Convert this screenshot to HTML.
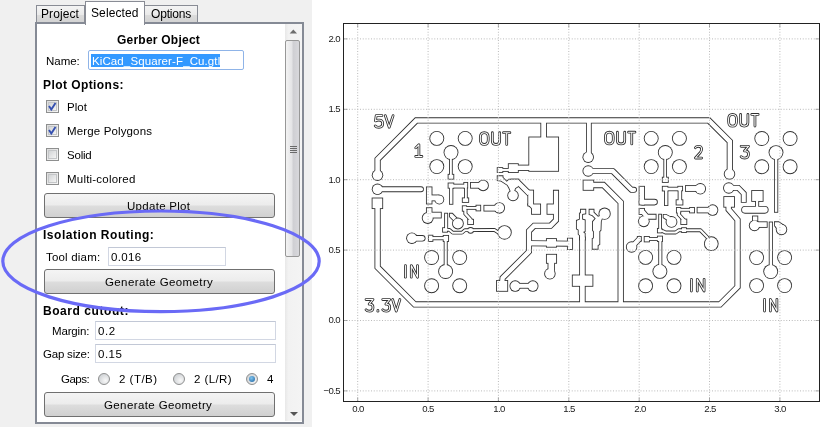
<!DOCTYPE html>
<html>
<head>
<meta charset="utf-8">
<title>FlatCAM</title>
<style>
html,body{margin:0;padding:0;}
body{width:831px;height:427px;overflow:hidden;background:#f0f0f0;font-family:"Liberation Sans",sans-serif;font-size:11.5px;color:#000;position:relative;}
.abs{position:absolute;}
.lbl,.tk{will-change:transform;}
#canvas{left:312px;top:0;width:519px;height:427px;background:#fff;}
/* tabs */
.tab{position:absolute;box-sizing:border-box;border:1px solid #898c95;border-bottom:none;background:linear-gradient(#f4f4f4,#eaeaea 50%,#dcdcdc 51%,#d2d2d2);text-align:center;font-size:12px;line-height:15px;}
.tab.sel{background:#fff;z-index:3;}
#pane{left:34.5px;top:22px;width:269.5px;height:402px;box-sizing:border-box;border:2.4px solid #858a95;background:#fff;}
.lbl{position:absolute;white-space:pre;line-height:14px;font-size:11.5px;z-index:4;}
.b{font-weight:bold;}
.inp{position:absolute;box-sizing:border-box;border:1px solid #d2d7e3;border-top-color:#c2c8d6;background:#fff;height:19px;font-size:11.5px;line-height:17px;padding-left:3px;white-space:nowrap;}
.btn{position:absolute;box-sizing:border-box;border:1px solid #707070;border-radius:3px;background:linear-gradient(#f4f4f4,#ececec 48%,#dddddd 52%,#d0d0d0);text-align:center;font-size:11.5px;left:44px;width:231px;height:25px;line-height:22px;}
.cb{position:absolute;box-sizing:border-box;width:13px;height:13px;left:46px;border:1px solid #8e8f8f;background:linear-gradient(135deg,#dcdcdc,#f6f6f6);}
.cb i{position:absolute;left:1px;top:1px;width:9px;height:9px;box-sizing:border-box;border:1px solid #c4c6c8;background:linear-gradient(135deg,#d2d4d6,#f4f4f4);}
.rd{position:absolute;box-sizing:border-box;width:12px;height:12px;border-radius:50%;border:1px solid #8e8f8f;background:radial-gradient(circle at 65% 65%,#f8f8f8,#c3c7cb);}
.tk{position:absolute;font-size:9.6px;line-height:10px;color:#1a1a1a;white-space:nowrap;letter-spacing:-0.6px;z-index:3;}
.tky{text-align:right;width:40px;left:300.4px;}
.tkx{text-align:center;width:40px;top:403.87px;}
</style>
</head>
<body>
<div id="canvas" class="abs"></div>

<!-- tabs -->
<div class="tab" style="left:36px;top:5px;width:49px;height:18px;line-height:16px;"></div>
<div class="tab sel" style="left:84.5px;top:1px;width:60.5px;height:23.5px;line-height:19px;"></div>
<div class="tab" style="left:144px;top:5px;width:54px;height:18px;line-height:16px;"></div>

<div id="pane" class="abs"></div>

<!-- scrollbar -->
<div class="abs" style="left:285px;top:24px;width:17px;height:397px;background:linear-gradient(90deg,#e8e8e8,#f2f2f2 20%,#f4f4f4);"></div>
<div class="abs" style="left:285px;top:40px;width:15px;height:217px;box-sizing:border-box;border:1px solid #979797;border-radius:2px;background:linear-gradient(90deg,#f3f3f3,#e4e4e6 45%,#cfcfd3 55%,#d8d8dc);"></div>
<svg class="abs" style="left:286px;top:24px;" width="15" height="397" viewBox="0 0 15 397">
<path d="M3.7 9.6 L7.3 5.6 L11 9.6 Z" fill="#6d6d6d"/>
<path d="M4 388 L12 388 L8 392 Z" fill="#555"/>
<g stroke="#6a6a6a" stroke-width="1"><path d="M4 122.5h7M4 124.5h7M4 126.5h7M4 128.5h7"/></g>
</svg>

<!-- content -->
<div class="inp" style="left:88px;top:50px;width:156px;height:20px;border-color:#8fb4e8;border-radius:2px;"></div>
<div class="abs" style="left:91px;top:53.5px;width:129px;height:13.2px;background:#3399ff;z-index:3;"></div>

<div class="cb" style="top:100px;"><i></i></div>
<div class="cb" style="top:124px;"><i></i></div>
<div class="cb" style="top:148px;"><i></i></div>
<div class="cb" style="top:172px;"><i></i></div>
<svg class="abs" style="left:46px;top:100px;" width="13" height="40" viewBox="0 0 13 40">
<path d="M3 6 L5.3 9.5 L9.5 3" fill="none" stroke="#3550b0" stroke-width="1.9"/>
<path d="M3 30 L5.3 33.5 L9.5 27" fill="none" stroke="#3550b0" stroke-width="1.9"/>
</svg>

<div class="btn" style="top:192.5px;"></div>
<div class="inp" style="left:108px;top:247px;width:118px;"></div>
<div class="btn" style="top:269px;"></div>
<div class="inp" style="left:95px;top:321px;width:181px;"></div>
<div class="inp" style="left:95px;top:344px;width:181px;"></div>
<div class="rd" style="left:98px;top:373px;"></div>
<div class="rd" style="left:173px;top:373px;"></div>
<div class="rd" style="left:246px;top:373px;"><b style="position:absolute;left:2px;top:2px;width:6px;height:6px;border-radius:50%;background:radial-gradient(circle at 40% 35%,#7fc4ee,#1a5f9e);"></b></div>
<div class="btn" style="top:392.4px;"></div>

<!--LBL-->
<div class="lbl b" style="left:116.9px;top:33.34px;font-size:12px;letter-spacing:0.23px;">Gerber Object</div>
<div class="lbl" style="left:45.7px;top:53.72px;font-size:11.5px;letter-spacing:-0.03px;">Name:</div>
<div class="lbl b" style="left:42.7px;top:78.24px;font-size:12px;letter-spacing:0.43px;">Plot Options:</div>
<div class="lbl" style="left:66.6px;top:100.42px;font-size:11.5px;letter-spacing:0.07px;">Plot</div>
<div class="lbl" style="left:66.6px;top:124.42px;font-size:11.5px;letter-spacing:0.14px;">Merge Polygons</div>
<div class="lbl" style="left:66.6px;top:148.42px;font-size:11.5px;letter-spacing:-0.22px;">Solid</div>
<div class="lbl" style="left:66.6px;top:172.42px;font-size:11.5px;letter-spacing:0.21px;">Multi-colored</div>
<div class="lbl" style="left:127.1px;top:198.72px;font-size:11.5px;letter-spacing:0.29px;">Update Plot</div>
<div class="lbl b" style="left:42.7px;top:227.74px;font-size:12px;letter-spacing:0.52px;">Isolation Routing:</div>
<div class="lbl" style="left:46.4px;top:249.82px;font-size:11.5px;letter-spacing:0.19px;">Tool diam:</div>
<div class="lbl" style="left:111.1px;top:249.82px;font-size:11.5px;letter-spacing:0.32px;">0.016</div>
<div class="lbl" style="left:104.6px;top:275.22px;font-size:11.5px;letter-spacing:0.39px;">Generate Geometry</div>
<div class="lbl b" style="left:42.5px;top:304.34px;font-size:12px;letter-spacing:0.56px;">Board cutout:</div>
<div class="lbl" style="left:52.0px;top:324.12px;font-size:11.5px;letter-spacing:-0.17px;">Margin:</div>
<div class="lbl" style="left:97.5px;top:324.12px;font-size:11.5px;letter-spacing:0.63px;">0.2</div>
<div class="lbl" style="left:42.5px;top:347.02px;font-size:11.5px;letter-spacing:-0.21px;">Gap size:</div>
<div class="lbl" style="left:97.5px;top:347.02px;font-size:11.5px;letter-spacing:0.50px;">0.15</div>
<div class="lbl" style="left:61.0px;top:372.32px;font-size:11.5px;letter-spacing:-0.50px;">Gaps:</div>
<div class="lbl" style="left:119.0px;top:372.32px;font-size:11.5px;letter-spacing:0.49px;">2 (T/B)</div>
<div class="lbl" style="left:194.2px;top:372.32px;font-size:11.5px;letter-spacing:0.42px;">2 (L/R)</div>
<div class="lbl" style="left:267.0px;top:372.32px;font-size:11.5px;letter-spacing:-0.41px;">4</div>
<div class="lbl" style="left:104.3px;top:398.42px;font-size:11.5px;letter-spacing:0.39px;">Generate Geometry</div>
<div class="lbl" style="left:91.6px;top:53.72px;font-size:11.5px;letter-spacing:0.11px;color:#fff;z-index:5;">KiCad_Squarer-F_Cu.gtl</div>
<div class="lbl" style="left:40.7px;top:6.54px;font-size:12px;letter-spacing:0.08px;z-index:4;">Project</div>
<div class="lbl" style="left:90.7px;top:5.94px;font-size:12px;letter-spacing:0.12px;z-index:4;">Selected</div>
<div class="lbl" style="left:150.8px;top:6.54px;font-size:12px;letter-spacing:-0.19px;z-index:4;">Options</div>
<!--/LBL-->
<!-- annotation ellipse -->
<svg class="abs" style="left:0;top:0;z-index:5;" width="831" height="427" viewBox="0 0 831 427">
<ellipse cx="161" cy="261.3" rx="158.2" ry="50.3" fill="none" stroke="#6a6af6" stroke-width="3.2"/>
</svg>

<!-- plot -->
<svg id="plot" class="abs" style="left:0;top:0;z-index:2;" width="831" height="427" viewBox="0 0 831 427">
<!--PCB-->
<g id="pcbA">
<path d="M377.60 175.63 L377.60 159.20 L416.30 120.45 L708.80 120.45 L729.85 141.50 L729.85 174.43" fill="none" stroke="#303030" stroke-width="6.26" stroke-linecap="butt" stroke-linejoin="miter"/>
<circle cx="377.50" cy="175.20" r="5.73" fill="#303030"/>
<circle cx="729.50" cy="174.00" r="5.73" fill="#303030"/>
<path d="M543.65 120.07 L543.65 141.43" fill="none" stroke="#303030" stroke-width="6.56" stroke-linecap="butt" stroke-linejoin="miter"/>
<rect x="528.37" y="136.57" width="30.66" height="35.16" fill="#303030"/>
<rect x="496.77" y="167.17" width="6.46" height="5.66" fill="#303030"/>
<path d="M500.57 169.90 L510.43 169.90" fill="none" stroke="#303030" stroke-width="3.86" stroke-linecap="butt" stroke-linejoin="miter"/>
<rect x="507.87" y="163.27" width="10.86" height="9.66" fill="#303030"/>
<path d="M515.57 167.80 L531.43 167.80" fill="none" stroke="#303030" stroke-width="6.26" stroke-linecap="butt" stroke-linejoin="miter"/>
<path d="M588.85 120.07 L588.85 157.63" fill="none" stroke="#303030" stroke-width="5.76" stroke-linecap="butt" stroke-linejoin="miter"/>
<circle cx="588.20" cy="157.20" r="5.73" fill="#303030"/>
<path d="M377.60 202.87 L377.60 267.30 L414.70 304.40 L720.00 304.40 L737.55 286.85 L737.55 219.80 L728.65 209.50 L728.65 202.57" fill="none" stroke="#303030" stroke-width="6.26" stroke-linecap="butt" stroke-linejoin="miter"/>
<rect x="371.67" y="197.57" width="11.46" height="11.46" fill="#303030"/>
<rect x="723.37" y="196.17" width="11.56" height="11.46" fill="#303030"/>
<path d="M582.40 304.83 L582.40 236.57" fill="none" stroke="#303030" stroke-width="6.46" stroke-linecap="butt" stroke-linejoin="miter"/>
<rect x="571.87" y="274.57" width="21.46" height="12.16" fill="#303030"/>
<path d="M580.07 208.87 L586.23 208.87 L586.23 214.28 L583.03 214.68 L583.03 218.86 L585.63 219.46 L585.63 231.77 L584.60 232.28 L585.63 233.09 L585.63 240.43 L579.17 240.43 L579.17 235.80 L577.77 234.60 L577.77 230.27 L575.97 229.37 L575.97 220.11 L578.97 218.91 L578.97 212.64 L580.07 212.44 Z" fill="#303030"/>
<path d="M587.97 185.00 L603.40 185.00 L620.70 202.30 L620.70 304.83" fill="none" stroke="#303030" stroke-width="6.26" stroke-linecap="butt" stroke-linejoin="miter"/>
<rect x="582.67" y="179.67" width="11.46" height="11.06" fill="#303030"/>
<circle cx="377.50" cy="189.30" r="5.73" fill="#303030"/>
<path d="M377.50 189.30 L421.00 189.30" fill="none" stroke="#303030" stroke-width="5.86" stroke-linecap="round" stroke-linejoin="round"/>
<circle cx="436.80" cy="138.40" r="7.43" fill="#303030"/>
<circle cx="465.20" cy="138.40" r="7.43" fill="#303030"/>
<circle cx="451.00" cy="152.50" r="7.43" fill="#303030"/>
<circle cx="436.80" cy="166.60" r="7.43" fill="#303030"/>
<circle cx="465.20" cy="166.60" r="7.43" fill="#303030"/>
<path d="M450.90 152.07 L450.90 176.43" fill="none" stroke="#303030" stroke-width="3.66" stroke-linecap="butt" stroke-linejoin="miter"/>
<rect x="447.67" y="173.87" width="6.56" height="5.76" fill="#303030"/>
<circle cx="431.60" cy="257.50" r="7.43" fill="#303030"/>
<circle cx="459.70" cy="257.50" r="7.43" fill="#303030"/>
<circle cx="445.60" cy="271.50" r="7.43" fill="#303030"/>
<circle cx="431.60" cy="285.70" r="7.43" fill="#303030"/>
<circle cx="459.70" cy="285.70" r="7.43" fill="#303030"/>
<path d="M445.70 271.93 L445.70 238.07" fill="none" stroke="#303030" stroke-width="3.96" stroke-linecap="butt" stroke-linejoin="miter"/>
<rect x="442.77" y="234.97" width="6.26" height="6.96" fill="#303030"/>
<path d="M429.57 238.20 L446.43 238.20" fill="none" stroke="#303030" stroke-width="4.06" stroke-linecap="butt" stroke-linejoin="miter"/>
<rect x="427.97" y="234.77" width="5.36" height="7.06" fill="#303030"/>
<circle cx="411.90" cy="238.20" r="5.73" fill="#303030"/>
<path d="M411.90 238.30 L422.30 238.30" fill="none" stroke="#303030" stroke-width="6.46" stroke-linecap="round" stroke-linejoin="round"/>
<rect x="425.97" y="186.47" width="6.46" height="17.96" fill="#303030"/>
<path d="M429.57 197.90 L439.43 197.90" fill="none" stroke="#303030" stroke-width="6.76" stroke-linecap="butt" stroke-linejoin="miter"/>
<circle cx="439.30" cy="199.60" r="4.93" fill="#303030"/>
<rect x="447.67" y="182.57" width="6.56" height="6.06" fill="#303030"/>
<path d="M450.57 186.10 L466.43 186.10" fill="none" stroke="#303030" stroke-width="4.76" stroke-linecap="butt" stroke-linejoin="miter"/>
<path d="M451.15 185.57 L451.15 204.73" fill="none" stroke="#303030" stroke-width="4.36" stroke-linecap="butt" stroke-linejoin="miter"/>
<rect x="463.37" y="181.97" width="4.76" height="6.46" fill="#303030"/>
<path d="M465.90 183.57 L465.90 200.43" fill="none" stroke="#303030" stroke-width="3.66" stroke-linecap="butt" stroke-linejoin="miter"/>
<rect x="461.87" y="197.47" width="7.26" height="5.36" fill="#303030"/>
<circle cx="483.10" cy="185.40" r="5.73" fill="#303030"/>
<path d="M483.43 185.30 L470.07 185.30" fill="none" stroke="#303030" stroke-width="6.66" stroke-linecap="butt" stroke-linejoin="miter"/>
<circle cx="499.30" cy="207.90" r="5.73" fill="#303030"/>
<path d="M499.43 208.20 L483.47 208.20" fill="none" stroke="#303030" stroke-width="6.66" stroke-linecap="butt" stroke-linejoin="miter"/>
<rect x="461.87" y="205.37" width="5.16" height="6.26" fill="#303030"/>
<path d="M463.57 207.90 L478.43 207.90" fill="none" stroke="#303030" stroke-width="3.76" stroke-linecap="butt" stroke-linejoin="miter"/>
<rect x="475.57" y="204.77" width="5.56" height="6.56" fill="#303030"/>
<path d="M465.40 208.57 L465.40 213.80 L470.60 219.50 L470.60 221.43" fill="none" stroke="#303030" stroke-width="4.06" stroke-linecap="butt" stroke-linejoin="miter"/>
<rect x="467.27" y="218.87" width="6.66" height="6.06" fill="#303030"/>
<circle cx="427.70" cy="218.00" r="5.93" fill="#303030"/>
<rect x="425.97" y="207.27" width="6.46" height="7.16" fill="#303030"/>
<path d="M429.57 215.10 L441.73 215.10" fill="none" stroke="#303030" stroke-width="6.66" stroke-linecap="butt" stroke-linejoin="miter"/>
<path d="M446.15 212.77 L446.15 230.43" fill="none" stroke="#303030" stroke-width="3.96" stroke-linecap="butt" stroke-linejoin="miter"/>
<rect x="442.17" y="227.27" width="5.76" height="5.36" fill="#303030"/>
<path d="M445.00 229.80 L449.50 229.90 L452.70 232.70 L462.00 232.70 L464.90 230.20 L494.30 229.90 L499.00 233.00" fill="none" stroke="#303030" stroke-width="3.66" stroke-linecap="round" stroke-linejoin="round"/>
<circle cx="470.60" cy="230.40" r="3.33" fill="#303030"/>
<circle cx="504.50" cy="232.40" r="7.23" fill="#303030"/>
<circle cx="457.90" cy="223.50" r="5.88" fill="#303030"/>
<path d="M449.07 212.77 L452.58 212.77 L457.41 217.82 L453.60 221.39 L449.07 217.08 Z" fill="#303030"/>
<path d="M496.77 175.37 L503.43 175.37 L503.43 177.22 L506.71 180.51 L508.63 178.77 L519.43 178.77 L519.43 186.43 L515.86 188.78 L513.10 197.05 L509.51 190.79 L508.42 188.19 L506.88 185.60 L500.74 181.51 L496.77 180.98 Z" fill="#303030"/>
<circle cx="513.00" cy="195.50" r="5.73" fill="#303030"/>
<path d="M510.57 181.80 L517.40 181.80 L529.80 194.20" fill="none" stroke="#303030" stroke-width="6.06" stroke-linecap="butt" stroke-linejoin="miter"/>
<rect x="527.37" y="189.67" width="6.66" height="16.76" fill="#303030"/>
<path d="M527.37 203.57 L533.43 203.57 L533.43 211.05 L527.37 204.88 Z" fill="#303030"/>
<rect x="531.07" y="203.57" width="9.96" height="11.16" fill="#303030"/>
<path d="M556.00 189.87 L556.00 220.20 L550.50 225.75 L534.20 225.75 L529.00 231.00 L529.00 251.60 L502.60 278.00 L501.96 284.43" fill="none" stroke="#303030" stroke-width="6.06" stroke-linecap="butt" stroke-linejoin="miter"/>
<rect x="546.57" y="203.57" width="9.36" height="11.16" fill="#303030"/>
<rect x="496.07" y="280.07" width="12.06" height="11.66" fill="#303030"/>
<path d="M528.57 243.19 L570.43 243.71" fill="none" stroke="#303030" stroke-width="6.06" stroke-linecap="butt" stroke-linejoin="miter"/>
<rect x="545.97" y="238.17" width="10.96" height="9.46" fill="#303030"/>
<rect x="566.97" y="237.77" width="6.06" height="12.16" fill="#303030"/>
<rect x="545.97" y="253.87" width="11.06" height="9.86" fill="#303030"/>
<path d="M551.30 258.57 L551.30 272.43" fill="none" stroke="#303030" stroke-width="7.46" stroke-linecap="butt" stroke-linejoin="miter"/>
<circle cx="549.90" cy="273.80" r="5.73" fill="#303030"/>
<circle cx="515.20" cy="286.10" r="5.73" fill="#303030"/>
<circle cx="532.80" cy="286.10" r="5.73" fill="#303030"/>
<path d="M514.77 285.80 L533.23 285.80" fill="none" stroke="#303030" stroke-width="5.76" stroke-linecap="butt" stroke-linejoin="miter"/>
<path d="M588.67 208.87 L594.43 208.87 L594.43 212.02 L598.21 215.80 L604.72 213.26 L601.73 221.58 L601.42 230.48 L600.23 231.68 L600.23 244.63 L598.53 245.73 L598.53 249.63 L591.77 249.63 L591.77 238.23 L592.97 237.63 L592.97 231.64 L592.07 230.44 L592.07 221.34 L594.51 218.62 L591.96 216.07 L588.67 214.79 Z" fill="#303030"/>
<circle cx="604.60" cy="213.70" r="6.13" fill="#303030"/>
<path d="M588.20 171.00 L612.70 171.00 L631.50 189.80 L634.00 189.80" fill="none" stroke="#303030" stroke-width="6.06" stroke-linecap="round" stroke-linejoin="round"/>
<circle cx="588.20" cy="171.00" r="5.73" fill="#303030"/>
<circle cx="651.20" cy="138.40" r="7.43" fill="#303030"/>
<circle cx="679.40" cy="138.40" r="7.43" fill="#303030"/>
<circle cx="665.30" cy="152.50" r="7.43" fill="#303030"/>
<circle cx="651.20" cy="166.60" r="7.43" fill="#303030"/>
<circle cx="679.40" cy="166.60" r="7.43" fill="#303030"/>
<path d="M665.20 152.07 L665.20 180.43" fill="none" stroke="#303030" stroke-width="3.66" stroke-linecap="butt" stroke-linejoin="miter"/>
<rect x="661.87" y="176.77" width="6.86" height="6.06" fill="#303030"/>
<rect x="638.67" y="185.87" width="6.26" height="19.56" fill="#303030"/>
<path d="M642.00 202.10 L654.50 202.10" fill="none" stroke="#303030" stroke-width="6.66" stroke-linecap="round" stroke-linejoin="round"/>
<rect x="661.87" y="185.87" width="6.46" height="5.56" fill="#303030"/>
<path d="M664.57 189.00 L680.43 189.00" fill="none" stroke="#303030" stroke-width="4.46" stroke-linecap="butt" stroke-linejoin="miter"/>
<path d="M666.20 187.57 L666.20 206.03" fill="none" stroke="#303030" stroke-width="4.26" stroke-linecap="butt" stroke-linejoin="miter"/>
<rect x="677.37" y="185.87" width="5.66" height="5.36" fill="#303030"/>
<path d="M679.90 187.57 L679.90 202.93" fill="none" stroke="#303030" stroke-width="4.46" stroke-linecap="butt" stroke-linejoin="miter"/>
<rect x="675.67" y="199.37" width="7.66" height="6.06" fill="#303030"/>
<circle cx="700.30" cy="188.80" r="5.73" fill="#303030"/>
<path d="M700.43 188.50 L684.97 188.50" fill="none" stroke="#303030" stroke-width="6.66" stroke-linecap="butt" stroke-linejoin="miter"/>
<circle cx="712.60" cy="210.10" r="5.73" fill="#303030"/>
<path d="M712.43 210.10 L696.67 210.10" fill="none" stroke="#303030" stroke-width="6.46" stroke-linecap="butt" stroke-linejoin="miter"/>
<rect x="689.17" y="207.07" width="5.76" height="6.26" fill="#303030"/>
<path d="M677.57 209.80 L691.43 209.80" fill="none" stroke="#303030" stroke-width="3.76" stroke-linecap="butt" stroke-linejoin="miter"/>
<rect x="675.97" y="207.07" width="5.26" height="6.36" fill="#303030"/>
<path d="M678.80 210.57 L678.80 214.50 L683.80 220.00 L683.80 221.43" fill="none" stroke="#303030" stroke-width="4.06" stroke-linecap="butt" stroke-linejoin="miter"/>
<rect x="680.37" y="218.67" width="6.86" height="6.26" fill="#303030"/>
<rect x="638.67" y="207.97" width="6.26" height="6.96" fill="#303030"/>
<path d="M642.22 211.17 L647.00 216.80 L656.53 216.80" fill="none" stroke="#303030" stroke-width="5.86" stroke-linecap="butt" stroke-linejoin="miter"/>
<circle cx="643.80" cy="221.30" r="5.83" fill="#303030"/>
<path d="M660.10 213.77 L660.10 231.23" fill="none" stroke="#303030" stroke-width="3.66" stroke-linecap="butt" stroke-linejoin="miter"/>
<rect x="656.97" y="227.97" width="5.46" height="5.36" fill="#303030"/>
<path d="M660.00 230.80 L663.00 231.20 L665.50 232.50 L675.70 232.50 L679.00 230.20 L700.50 230.30 L707.50 237.50" fill="none" stroke="#303030" stroke-width="3.86" stroke-linecap="round" stroke-linejoin="round"/>
<rect x="681.17" y="227.27" width="5.66" height="5.66" fill="#303030"/>
<circle cx="711.30" cy="243.70" r="7.33" fill="#303030"/>
<circle cx="671.50" cy="221.90" r="5.88" fill="#303030"/>
<path d="M662.77 213.97 L666.20 213.97 L671.92 216.89 L667.66 221.15 L662.77 218.04 Z" fill="#303030"/>
<circle cx="631.60" cy="247.00" r="5.73" fill="#303030"/>
<path d="M631.30 247.31 L639.70 238.69" fill="none" stroke="#303030" stroke-width="5.86" stroke-linecap="butt" stroke-linejoin="miter"/>
<rect x="636.87" y="236.07" width="4.86" height="5.56" fill="#303030"/>
<rect x="643.77" y="236.07" width="6.06" height="6.26" fill="#303030"/>
<path d="M645.57 239.00 L660.43 239.00" fill="none" stroke="#303030" stroke-width="4.06" stroke-linecap="butt" stroke-linejoin="miter"/>
<rect x="656.97" y="235.67" width="5.96" height="6.26" fill="#303030"/>
<path d="M660.30 238.57 L660.30 271.83" fill="none" stroke="#303030" stroke-width="4.06" stroke-linecap="butt" stroke-linejoin="miter"/>
<circle cx="645.60" cy="257.40" r="7.43" fill="#303030"/>
<circle cx="674.00" cy="257.40" r="7.43" fill="#303030"/>
<circle cx="659.90" cy="271.40" r="7.43" fill="#303030"/>
<circle cx="645.60" cy="285.80" r="7.43" fill="#303030"/>
<circle cx="674.00" cy="285.80" r="7.43" fill="#303030"/>
<circle cx="761.80" cy="138.50" r="7.43" fill="#303030"/>
<circle cx="790.10" cy="138.50" r="7.43" fill="#303030"/>
<circle cx="776.00" cy="152.60" r="7.43" fill="#303030"/>
<circle cx="761.80" cy="166.70" r="7.43" fill="#303030"/>
<circle cx="790.10" cy="166.70" r="7.43" fill="#303030"/>
<path d="M776.10 152.17 L776.10 212.73" fill="none" stroke="#303030" stroke-width="4.26" stroke-linecap="butt" stroke-linejoin="miter"/>
<circle cx="728.80" cy="188.00" r="5.73" fill="#303030"/>
<path d="M728.37 187.90 L738.20 187.90 L743.75 193.50 L743.75 202.83" fill="none" stroke="#303030" stroke-width="5.86" stroke-linecap="butt" stroke-linejoin="miter"/>
<rect x="751.27" y="190.07" width="12.26" height="11.76" fill="#303030"/>
<path d="M757.10 199.57 L757.10 208.43" fill="none" stroke="#303030" stroke-width="4.06" stroke-linecap="butt" stroke-linejoin="miter"/>
<path d="M745.00 209.80 L764.80 209.80" fill="none" stroke="#303030" stroke-width="7.66" stroke-linecap="round" stroke-linejoin="round"/>
<circle cx="754.50" cy="225.60" r="5.63" fill="#303030"/>
<rect x="752.07" y="215.57" width="6.16" height="5.86" fill="#303030"/>
<path d="M755.57 224.60 L767.63 224.60" fill="none" stroke="#303030" stroke-width="6.46" stroke-linecap="butt" stroke-linejoin="miter"/>
<path d="M770.90 221.57 L770.90 272.03" fill="none" stroke="#303030" stroke-width="4.26" stroke-linecap="butt" stroke-linejoin="miter"/>
<circle cx="781.50" cy="229.50" r="5.73" fill="#303030"/>
<path d="M773.97 221.37 L778.93 221.37 L783.68 224.43 L777.44 230.67 L773.97 225.63 Z" fill="#303030"/>
<circle cx="756.60" cy="257.60" r="7.43" fill="#303030"/>
<circle cx="784.60" cy="257.60" r="7.43" fill="#303030"/>
<circle cx="770.70" cy="271.60" r="7.43" fill="#303030"/>
<circle cx="756.60" cy="285.60" r="7.43" fill="#303030"/>
<circle cx="784.60" cy="285.60" r="7.43" fill="#303030"/>
<path d="M 381.97 115.60 L 376.17 115.60 L 375.44 120.98 C 376.41 120.40 377.62 120.05 378.95 120.05 C 381.49 120.05 382.70 121.45 382.70 123.56 C 382.70 125.90 381.25 127.30 378.95 127.30 C 377.14 127.30 375.80 126.71 375.20 125.90" fill="none" stroke="#303030" stroke-width="2.75" stroke-linecap="round" stroke-linejoin="round"/>
<path d="M 385.30 115.60 L 389.20 127.30 L 393.10 115.60" fill="none" stroke="#303030" stroke-width="2.75" stroke-linecap="round" stroke-linejoin="round"/>
<path d="M 415.70 147.86 L 418.92 144.70 L 418.92 156.40 M 415.70 156.40 L 421.90 156.40" fill="none" stroke="#303030" stroke-width="2.75" stroke-linecap="round" stroke-linejoin="round"/>
<path d="M 484.30 132.70 C 481.55 132.70 480.35 134.45 480.35 137.38 L 480.35 139.72 C 480.35 142.64 481.55 144.40 484.30 144.40 C 487.05 144.40 488.25 142.64 488.25 139.72 L 488.25 137.38 C 488.25 134.45 487.05 132.70 484.30 132.70 Z" fill="none" stroke="#303030" stroke-width="2.75" stroke-linecap="round" stroke-linejoin="round"/>
<path d="M 492.35 132.70 L 492.35 140.89 C 492.35 143.23 493.53 144.40 496.00 144.40 C 498.47 144.40 499.65 143.23 499.65 140.89 L 499.65 132.70" fill="none" stroke="#303030" stroke-width="2.75" stroke-linecap="round" stroke-linejoin="round"/>
<path d="M 503.50 132.70 L 509.90 132.70 M 506.70 132.70 L 506.70 144.40" fill="none" stroke="#303030" stroke-width="2.75" stroke-linecap="round" stroke-linejoin="round"/>
<path d="M 609.35 132.20 C 606.60 132.20 605.40 133.95 605.40 136.88 L 605.40 139.22 C 605.40 142.14 606.60 143.90 609.35 143.90 C 612.10 143.90 613.30 142.14 613.30 139.22 L 613.30 136.88 C 613.30 133.95 612.10 132.20 609.35 132.20 Z" fill="none" stroke="#303030" stroke-width="2.75" stroke-linecap="round" stroke-linejoin="round"/>
<path d="M 617.40 132.20 L 617.40 140.39 C 617.40 142.73 618.58 143.90 621.05 143.90 C 623.52 143.90 624.70 142.73 624.70 140.39 L 624.70 132.20" fill="none" stroke="#303030" stroke-width="2.75" stroke-linecap="round" stroke-linejoin="round"/>
<path d="M 628.55 132.20 L 634.95 132.20 M 631.75 132.20 L 631.75 143.90" fill="none" stroke="#303030" stroke-width="2.75" stroke-linecap="round" stroke-linejoin="round"/>
<path d="M 732.55 114.40 C 729.80 114.40 728.60 116.16 728.60 119.08 L 728.60 121.42 C 728.60 124.34 729.80 126.10 732.55 126.10 C 735.30 126.10 736.50 124.34 736.50 121.42 L 736.50 119.08 C 736.50 116.16 735.30 114.40 732.55 114.40 Z" fill="none" stroke="#303030" stroke-width="2.75" stroke-linecap="round" stroke-linejoin="round"/>
<path d="M 740.60 114.40 L 740.60 122.59 C 740.60 124.93 741.78 126.10 744.25 126.10 C 746.72 126.10 747.90 124.93 747.90 122.59 L 747.90 114.40" fill="none" stroke="#303030" stroke-width="2.75" stroke-linecap="round" stroke-linejoin="round"/>
<path d="M 751.75 114.40 L 758.15 114.40 M 754.95 114.40 L 754.95 126.10" fill="none" stroke="#303030" stroke-width="2.75" stroke-linecap="round" stroke-linejoin="round"/>
<path d="M 695.40 147.70 C 695.90 146.77 696.90 146.30 698.50 146.30 C 700.60 146.30 701.60 147.47 701.60 149.23 C 701.60 150.40 701.10 151.56 700.10 152.74 L 695.40 158.00 L 701.60 158.00" fill="none" stroke="#303030" stroke-width="2.75" stroke-linecap="round" stroke-linejoin="round"/>
<path d="M 741.10 146.30 L 748.50 146.30 L 744.44 150.98 L 745.52 150.98 C 747.55 150.98 748.50 152.38 748.50 154.26 C 748.50 156.60 747.07 158.00 744.80 158.00 C 743.01 158.00 741.70 157.42 741.10 156.60" fill="none" stroke="#303030" stroke-width="2.75" stroke-linecap="round" stroke-linejoin="round"/>
<path d="M 405.40 265.50 L 405.40 277.20" fill="none" stroke="#303030" stroke-width="2.75" stroke-linecap="round" stroke-linejoin="round"/>
<path d="M 411.30 277.20 L 411.30 265.50 L 417.50 277.20 L 417.50 265.50" fill="none" stroke="#303030" stroke-width="2.75" stroke-linecap="round" stroke-linejoin="round"/>
<path d="M 366.00 299.50 L 373.00 299.50 L 369.16 304.18 L 370.18 304.18 C 372.10 304.18 373.00 305.58 373.00 307.46 C 373.00 309.80 371.65 311.20 369.50 311.20 C 367.81 311.20 366.56 310.62 366.00 309.80" fill="none" stroke="#303030" stroke-width="2.75" stroke-linecap="round" stroke-linejoin="round"/>
<path d="M 377.90 310.38 L 377.90 311.20" fill="none" stroke="#303030" stroke-width="2.75" stroke-linecap="round" stroke-linejoin="round"/>
<path d="M 382.70 299.50 L 389.70 299.50 L 385.86 304.18 L 386.88 304.18 C 388.80 304.18 389.70 305.58 389.70 307.46 C 389.70 309.80 388.35 311.20 386.20 311.20 C 384.51 311.20 383.26 310.62 382.70 309.80" fill="none" stroke="#303030" stroke-width="2.75" stroke-linecap="round" stroke-linejoin="round"/>
<path d="M 392.60 299.50 L 396.25 311.20 L 399.90 299.50" fill="none" stroke="#303030" stroke-width="2.75" stroke-linecap="round" stroke-linejoin="round"/>
<path d="M 691.40 279.30 L 691.40 291.00" fill="none" stroke="#303030" stroke-width="2.75" stroke-linecap="round" stroke-linejoin="round"/>
<path d="M 697.30 291.00 L 697.30 279.30 L 704.10 291.00 L 704.10 279.30" fill="none" stroke="#303030" stroke-width="2.75" stroke-linecap="round" stroke-linejoin="round"/>
<path d="M 764.50 299.30 L 764.50 311.00" fill="none" stroke="#303030" stroke-width="2.75" stroke-linecap="round" stroke-linejoin="round"/>
<path d="M 770.40 311.00 L 770.40 299.30 L 776.90 311.00 L 776.90 299.30" fill="none" stroke="#303030" stroke-width="2.75" stroke-linecap="round" stroke-linejoin="round"/>
</g>
<g id="pcbB">
<path d="M377.60 174.77 L377.60 159.20 L416.30 120.45 L708.80 120.45 L729.85 141.50 L729.85 173.57" fill="none" stroke="#fff" stroke-width="4.54" stroke-linecap="butt" stroke-linejoin="miter"/>
<circle cx="377.50" cy="175.20" r="4.87" fill="#fff"/>
<circle cx="729.50" cy="174.00" r="4.87" fill="#fff"/>
<path d="M543.65 120.93 L543.65 140.57" fill="none" stroke="#fff" stroke-width="4.84" stroke-linecap="butt" stroke-linejoin="miter"/>
<rect x="529.23" y="137.43" width="28.94" height="33.44" fill="#fff"/>
<rect x="497.63" y="168.03" width="4.74" height="3.94" fill="#fff"/>
<path d="M501.43 169.90 L509.57 169.90" fill="none" stroke="#fff" stroke-width="2.14" stroke-linecap="butt" stroke-linejoin="miter"/>
<rect x="508.73" y="164.13" width="9.14" height="7.94" fill="#fff"/>
<path d="M516.43 167.80 L530.57 167.80" fill="none" stroke="#fff" stroke-width="4.54" stroke-linecap="butt" stroke-linejoin="miter"/>
<path d="M588.85 120.93 L588.85 156.77" fill="none" stroke="#fff" stroke-width="4.04" stroke-linecap="butt" stroke-linejoin="miter"/>
<circle cx="588.20" cy="157.20" r="4.87" fill="#fff"/>
<path d="M377.60 203.73 L377.60 267.30 L414.70 304.40 L720.00 304.40 L737.55 286.85 L737.55 219.80 L728.65 209.50 L728.65 203.43" fill="none" stroke="#fff" stroke-width="4.54" stroke-linecap="butt" stroke-linejoin="miter"/>
<rect x="372.53" y="198.43" width="9.74" height="9.74" fill="#fff"/>
<rect x="724.23" y="197.03" width="9.84" height="9.74" fill="#fff"/>
<path d="M582.40 303.97 L582.40 237.43" fill="none" stroke="#fff" stroke-width="4.74" stroke-linecap="butt" stroke-linejoin="miter"/>
<rect x="572.73" y="275.43" width="19.74" height="10.44" fill="#fff"/>
<path d="M580.93 209.73 L585.37 209.73 L585.37 213.52 L582.17 213.92 L582.17 219.54 L584.77 220.14 L584.77 231.23 L583.00 232.12 L584.77 233.51 L584.77 239.57 L580.03 239.57 L580.03 235.40 L578.63 234.20 L578.63 229.73 L576.83 228.83 L576.83 220.69 L579.83 219.49 L579.83 213.36 L580.93 213.16 Z" fill="#fff"/>
<path d="M588.83 185.00 L603.40 185.00 L620.70 202.30 L620.70 303.97" fill="none" stroke="#fff" stroke-width="4.54" stroke-linecap="butt" stroke-linejoin="miter"/>
<rect x="583.53" y="180.53" width="9.74" height="9.34" fill="#fff"/>
<circle cx="377.50" cy="189.30" r="4.87" fill="#fff"/>
<path d="M377.50 189.30 L421.00 189.30" fill="none" stroke="#fff" stroke-width="4.14" stroke-linecap="round" stroke-linejoin="round"/>
<circle cx="436.80" cy="138.40" r="6.57" fill="#fff"/>
<circle cx="465.20" cy="138.40" r="6.57" fill="#fff"/>
<circle cx="451.00" cy="152.50" r="6.57" fill="#fff"/>
<circle cx="436.80" cy="166.60" r="6.57" fill="#fff"/>
<circle cx="465.20" cy="166.60" r="6.57" fill="#fff"/>
<path d="M450.90 152.93 L450.90 175.57" fill="none" stroke="#fff" stroke-width="1.94" stroke-linecap="butt" stroke-linejoin="miter"/>
<rect x="448.53" y="174.73" width="4.84" height="4.04" fill="#fff"/>
<circle cx="431.60" cy="257.50" r="6.57" fill="#fff"/>
<circle cx="459.70" cy="257.50" r="6.57" fill="#fff"/>
<circle cx="445.60" cy="271.50" r="6.57" fill="#fff"/>
<circle cx="431.60" cy="285.70" r="6.57" fill="#fff"/>
<circle cx="459.70" cy="285.70" r="6.57" fill="#fff"/>
<path d="M445.70 271.07 L445.70 238.93" fill="none" stroke="#fff" stroke-width="2.24" stroke-linecap="butt" stroke-linejoin="miter"/>
<rect x="443.63" y="235.83" width="4.54" height="5.24" fill="#fff"/>
<path d="M430.43 238.20 L445.57 238.20" fill="none" stroke="#fff" stroke-width="2.34" stroke-linecap="butt" stroke-linejoin="miter"/>
<rect x="428.83" y="235.63" width="3.64" height="5.34" fill="#fff"/>
<circle cx="411.90" cy="238.20" r="4.87" fill="#fff"/>
<path d="M411.90 238.30 L422.30 238.30" fill="none" stroke="#fff" stroke-width="4.74" stroke-linecap="round" stroke-linejoin="round"/>
<rect x="426.83" y="187.33" width="4.74" height="16.24" fill="#fff"/>
<path d="M430.43 197.90 L438.57 197.90" fill="none" stroke="#fff" stroke-width="5.04" stroke-linecap="butt" stroke-linejoin="miter"/>
<circle cx="439.30" cy="199.60" r="4.07" fill="#fff"/>
<rect x="448.53" y="183.43" width="4.84" height="4.34" fill="#fff"/>
<path d="M451.43 186.10 L465.57 186.10" fill="none" stroke="#fff" stroke-width="3.04" stroke-linecap="butt" stroke-linejoin="miter"/>
<path d="M451.15 186.43 L451.15 203.87" fill="none" stroke="#fff" stroke-width="2.64" stroke-linecap="butt" stroke-linejoin="miter"/>
<rect x="464.23" y="182.83" width="3.04" height="4.74" fill="#fff"/>
<path d="M465.90 184.43 L465.90 199.57" fill="none" stroke="#fff" stroke-width="1.94" stroke-linecap="butt" stroke-linejoin="miter"/>
<rect x="462.73" y="198.33" width="5.54" height="3.64" fill="#fff"/>
<circle cx="483.10" cy="185.40" r="4.87" fill="#fff"/>
<path d="M482.57 185.30 L470.93 185.30" fill="none" stroke="#fff" stroke-width="4.94" stroke-linecap="butt" stroke-linejoin="miter"/>
<circle cx="499.30" cy="207.90" r="4.87" fill="#fff"/>
<path d="M498.57 208.20 L484.33 208.20" fill="none" stroke="#fff" stroke-width="4.94" stroke-linecap="butt" stroke-linejoin="miter"/>
<rect x="462.73" y="206.23" width="3.44" height="4.54" fill="#fff"/>
<path d="M464.43 207.90 L477.57 207.90" fill="none" stroke="#fff" stroke-width="2.04" stroke-linecap="butt" stroke-linejoin="miter"/>
<rect x="476.43" y="205.63" width="3.84" height="4.84" fill="#fff"/>
<path d="M465.40 209.43 L465.40 213.80 L470.60 219.50 L470.60 220.57" fill="none" stroke="#fff" stroke-width="2.34" stroke-linecap="butt" stroke-linejoin="miter"/>
<rect x="468.13" y="219.73" width="4.94" height="4.34" fill="#fff"/>
<circle cx="427.70" cy="218.00" r="5.07" fill="#fff"/>
<rect x="426.83" y="208.13" width="4.74" height="5.44" fill="#fff"/>
<path d="M430.43 215.10 L440.87 215.10" fill="none" stroke="#fff" stroke-width="4.94" stroke-linecap="butt" stroke-linejoin="miter"/>
<path d="M446.15 213.63 L446.15 229.57" fill="none" stroke="#fff" stroke-width="2.24" stroke-linecap="butt" stroke-linejoin="miter"/>
<rect x="443.03" y="228.13" width="4.04" height="3.64" fill="#fff"/>
<path d="M445.00 229.80 L449.50 229.90 L452.70 232.70 L462.00 232.70 L464.90 230.20 L494.30 229.90 L499.00 233.00" fill="none" stroke="#fff" stroke-width="1.94" stroke-linecap="round" stroke-linejoin="round"/>
<circle cx="470.60" cy="230.40" r="2.47" fill="#fff"/>
<circle cx="504.50" cy="232.40" r="6.37" fill="#fff"/>
<circle cx="457.90" cy="223.50" r="5.02" fill="#fff"/>
<path d="M449.93 213.63 L452.22 213.63 L456.19 217.78 L453.60 220.21 L449.93 216.72 Z" fill="#fff"/>
<path d="M497.63 176.23 L502.57 176.23 L502.57 177.58 L506.69 181.69 L508.97 179.63 L518.57 179.63 L518.57 185.97 L515.14 188.22 L512.90 194.95 L510.29 190.41 L509.18 187.81 L507.52 185.00 L501.06 180.69 L497.63 180.22 Z" fill="#fff"/>
<circle cx="513.00" cy="195.50" r="4.87" fill="#fff"/>
<path d="M511.43 181.80 L517.40 181.80 L529.20 193.60" fill="none" stroke="#fff" stroke-width="4.34" stroke-linecap="butt" stroke-linejoin="miter"/>
<rect x="528.23" y="190.53" width="4.94" height="15.04" fill="#fff"/>
<path d="M528.23 204.43 L532.57 204.43 L532.57 208.95 L528.23 204.52 Z" fill="#fff"/>
<rect x="531.93" y="204.43" width="8.24" height="9.44" fill="#fff"/>
<path d="M556.00 190.73 L556.00 220.20 L550.50 225.75 L534.20 225.75 L529.00 231.00 L529.00 251.60 L502.60 278.00 L502.04 283.57" fill="none" stroke="#fff" stroke-width="4.34" stroke-linecap="butt" stroke-linejoin="miter"/>
<rect x="547.43" y="204.43" width="7.64" height="9.44" fill="#fff"/>
<rect x="496.93" y="280.93" width="10.34" height="9.94" fill="#fff"/>
<path d="M529.43 243.21 L569.57 243.69" fill="none" stroke="#fff" stroke-width="4.34" stroke-linecap="butt" stroke-linejoin="miter"/>
<rect x="546.83" y="239.03" width="9.24" height="7.74" fill="#fff"/>
<rect x="567.83" y="238.63" width="4.34" height="10.44" fill="#fff"/>
<rect x="546.83" y="254.73" width="9.34" height="8.14" fill="#fff"/>
<path d="M551.30 259.43 L551.30 271.57" fill="none" stroke="#fff" stroke-width="5.74" stroke-linecap="butt" stroke-linejoin="miter"/>
<circle cx="549.90" cy="273.80" r="4.87" fill="#fff"/>
<circle cx="515.20" cy="286.10" r="4.87" fill="#fff"/>
<circle cx="532.80" cy="286.10" r="4.87" fill="#fff"/>
<path d="M515.63 285.80 L532.37 285.80" fill="none" stroke="#fff" stroke-width="4.04" stroke-linecap="butt" stroke-linejoin="miter"/>
<path d="M589.53 209.73 L593.57 209.73 L593.57 212.38 L597.99 216.80 L603.28 214.74 L600.87 221.42 L600.58 230.12 L599.37 231.32 L599.37 244.17 L597.67 245.27 L597.67 248.77 L592.63 248.77 L592.63 238.77 L593.83 238.17 L593.83 231.36 L592.93 230.16 L592.93 221.66 L595.69 218.58 L592.44 215.33 L589.53 214.21 Z" fill="#fff"/>
<circle cx="604.60" cy="213.70" r="5.27" fill="#fff"/>
<path d="M588.20 171.00 L612.70 171.00 L631.50 189.80 L634.00 189.80" fill="none" stroke="#fff" stroke-width="4.34" stroke-linecap="round" stroke-linejoin="round"/>
<circle cx="588.20" cy="171.00" r="4.87" fill="#fff"/>
<circle cx="651.20" cy="138.40" r="6.57" fill="#fff"/>
<circle cx="679.40" cy="138.40" r="6.57" fill="#fff"/>
<circle cx="665.30" cy="152.50" r="6.57" fill="#fff"/>
<circle cx="651.20" cy="166.60" r="6.57" fill="#fff"/>
<circle cx="679.40" cy="166.60" r="6.57" fill="#fff"/>
<path d="M665.20 152.93 L665.20 179.57" fill="none" stroke="#fff" stroke-width="1.94" stroke-linecap="butt" stroke-linejoin="miter"/>
<rect x="662.73" y="177.63" width="5.14" height="4.34" fill="#fff"/>
<rect x="639.53" y="186.73" width="4.54" height="17.84" fill="#fff"/>
<path d="M642.00 202.10 L654.50 202.10" fill="none" stroke="#fff" stroke-width="4.94" stroke-linecap="round" stroke-linejoin="round"/>
<rect x="662.73" y="186.73" width="4.74" height="3.84" fill="#fff"/>
<path d="M665.43 189.00 L679.57 189.00" fill="none" stroke="#fff" stroke-width="2.74" stroke-linecap="butt" stroke-linejoin="miter"/>
<path d="M666.20 188.43 L666.20 205.17" fill="none" stroke="#fff" stroke-width="2.54" stroke-linecap="butt" stroke-linejoin="miter"/>
<rect x="678.23" y="186.73" width="3.94" height="3.64" fill="#fff"/>
<path d="M679.90 188.43 L679.90 202.07" fill="none" stroke="#fff" stroke-width="2.74" stroke-linecap="butt" stroke-linejoin="miter"/>
<rect x="676.53" y="200.23" width="5.94" height="4.34" fill="#fff"/>
<circle cx="700.30" cy="188.80" r="4.87" fill="#fff"/>
<path d="M699.57 188.50 L685.83 188.50" fill="none" stroke="#fff" stroke-width="4.94" stroke-linecap="butt" stroke-linejoin="miter"/>
<circle cx="712.60" cy="210.10" r="4.87" fill="#fff"/>
<path d="M711.57 210.10 L697.53 210.10" fill="none" stroke="#fff" stroke-width="4.74" stroke-linecap="butt" stroke-linejoin="miter"/>
<rect x="690.03" y="207.93" width="4.04" height="4.54" fill="#fff"/>
<path d="M678.43 209.80 L690.57 209.80" fill="none" stroke="#fff" stroke-width="2.04" stroke-linecap="butt" stroke-linejoin="miter"/>
<rect x="676.83" y="207.93" width="3.54" height="4.64" fill="#fff"/>
<path d="M678.80 211.43 L678.80 214.50 L683.80 220.00 L683.80 220.57" fill="none" stroke="#fff" stroke-width="2.34" stroke-linecap="butt" stroke-linejoin="miter"/>
<rect x="681.23" y="219.53" width="5.14" height="4.54" fill="#fff"/>
<rect x="639.53" y="208.83" width="4.54" height="5.24" fill="#fff"/>
<path d="M642.78 211.83 L647.00 216.80 L655.67 216.80" fill="none" stroke="#fff" stroke-width="4.14" stroke-linecap="butt" stroke-linejoin="miter"/>
<circle cx="643.80" cy="221.30" r="4.97" fill="#fff"/>
<path d="M660.10 214.63 L660.10 230.37" fill="none" stroke="#fff" stroke-width="1.94" stroke-linecap="butt" stroke-linejoin="miter"/>
<rect x="657.83" y="228.83" width="3.74" height="3.64" fill="#fff"/>
<path d="M660.00 230.80 L663.00 231.20 L665.50 232.50 L675.70 232.50 L679.00 230.20 L700.50 230.30 L707.50 237.50" fill="none" stroke="#fff" stroke-width="2.14" stroke-linecap="round" stroke-linejoin="round"/>
<rect x="682.03" y="228.13" width="3.94" height="3.94" fill="#fff"/>
<circle cx="711.30" cy="243.70" r="6.47" fill="#fff"/>
<circle cx="671.50" cy="221.90" r="5.02" fill="#fff"/>
<path d="M663.63 214.83 L666.00 214.83 L670.48 217.11 L667.54 220.05 L663.63 217.56 Z" fill="#fff"/>
<circle cx="631.60" cy="247.00" r="4.87" fill="#fff"/>
<path d="M631.90 246.69 L639.10 239.31" fill="none" stroke="#fff" stroke-width="4.14" stroke-linecap="butt" stroke-linejoin="miter"/>
<rect x="637.73" y="236.93" width="3.14" height="3.84" fill="#fff"/>
<rect x="644.63" y="236.93" width="4.34" height="4.54" fill="#fff"/>
<path d="M646.43 239.00 L659.57 239.00" fill="none" stroke="#fff" stroke-width="2.34" stroke-linecap="butt" stroke-linejoin="miter"/>
<rect x="657.83" y="236.53" width="4.24" height="4.54" fill="#fff"/>
<path d="M660.30 239.43 L660.30 270.97" fill="none" stroke="#fff" stroke-width="2.34" stroke-linecap="butt" stroke-linejoin="miter"/>
<circle cx="645.60" cy="257.40" r="6.57" fill="#fff"/>
<circle cx="674.00" cy="257.40" r="6.57" fill="#fff"/>
<circle cx="659.90" cy="271.40" r="6.57" fill="#fff"/>
<circle cx="645.60" cy="285.80" r="6.57" fill="#fff"/>
<circle cx="674.00" cy="285.80" r="6.57" fill="#fff"/>
<circle cx="761.80" cy="138.50" r="6.57" fill="#fff"/>
<circle cx="790.10" cy="138.50" r="6.57" fill="#fff"/>
<circle cx="776.00" cy="152.60" r="6.57" fill="#fff"/>
<circle cx="761.80" cy="166.70" r="6.57" fill="#fff"/>
<circle cx="790.10" cy="166.70" r="6.57" fill="#fff"/>
<path d="M776.10 153.03 L776.10 211.87" fill="none" stroke="#fff" stroke-width="2.54" stroke-linecap="butt" stroke-linejoin="miter"/>
<circle cx="728.80" cy="188.00" r="4.87" fill="#fff"/>
<path d="M729.23 187.90 L738.20 187.90 L743.75 193.50 L743.75 201.97" fill="none" stroke="#fff" stroke-width="4.14" stroke-linecap="butt" stroke-linejoin="miter"/>
<rect x="752.13" y="190.93" width="10.54" height="10.04" fill="#fff"/>
<path d="M757.10 200.43 L757.10 207.57" fill="none" stroke="#fff" stroke-width="2.34" stroke-linecap="butt" stroke-linejoin="miter"/>
<path d="M745.00 209.80 L764.80 209.80" fill="none" stroke="#fff" stroke-width="5.94" stroke-linecap="round" stroke-linejoin="round"/>
<circle cx="754.50" cy="225.60" r="4.77" fill="#fff"/>
<rect x="752.93" y="216.43" width="4.44" height="4.14" fill="#fff"/>
<path d="M756.43 224.60 L766.77 224.60" fill="none" stroke="#fff" stroke-width="4.74" stroke-linecap="butt" stroke-linejoin="miter"/>
<path d="M770.90 222.43 L770.90 271.17" fill="none" stroke="#fff" stroke-width="2.54" stroke-linecap="butt" stroke-linejoin="miter"/>
<circle cx="781.50" cy="229.50" r="4.87" fill="#fff"/>
<path d="M774.83 222.23 L778.67 222.23 L782.32 224.57 L777.56 229.33 L774.83 225.37 Z" fill="#fff"/>
<circle cx="756.60" cy="257.60" r="6.57" fill="#fff"/>
<circle cx="784.60" cy="257.60" r="6.57" fill="#fff"/>
<circle cx="770.70" cy="271.60" r="6.57" fill="#fff"/>
<circle cx="756.60" cy="285.60" r="6.57" fill="#fff"/>
<circle cx="784.60" cy="285.60" r="6.57" fill="#fff"/>
<path d="M 381.97 115.60 L 376.17 115.60 L 375.44 120.98 C 376.41 120.40 377.62 120.05 378.95 120.05 C 381.49 120.05 382.70 121.45 382.70 123.56 C 382.70 125.90 381.25 127.30 378.95 127.30 C 377.14 127.30 375.80 126.71 375.20 125.90" fill="none" stroke="#fff" stroke-width="1.05" stroke-linecap="round" stroke-linejoin="round"/>
<path d="M 385.30 115.60 L 389.20 127.30 L 393.10 115.60" fill="none" stroke="#fff" stroke-width="1.05" stroke-linecap="round" stroke-linejoin="round"/>
<path d="M 415.70 147.86 L 418.92 144.70 L 418.92 156.40 M 415.70 156.40 L 421.90 156.40" fill="none" stroke="#fff" stroke-width="1.05" stroke-linecap="round" stroke-linejoin="round"/>
<path d="M 484.30 132.70 C 481.55 132.70 480.35 134.45 480.35 137.38 L 480.35 139.72 C 480.35 142.64 481.55 144.40 484.30 144.40 C 487.05 144.40 488.25 142.64 488.25 139.72 L 488.25 137.38 C 488.25 134.45 487.05 132.70 484.30 132.70 Z" fill="none" stroke="#fff" stroke-width="1.05" stroke-linecap="round" stroke-linejoin="round"/>
<path d="M 492.35 132.70 L 492.35 140.89 C 492.35 143.23 493.53 144.40 496.00 144.40 C 498.47 144.40 499.65 143.23 499.65 140.89 L 499.65 132.70" fill="none" stroke="#fff" stroke-width="1.05" stroke-linecap="round" stroke-linejoin="round"/>
<path d="M 503.50 132.70 L 509.90 132.70 M 506.70 132.70 L 506.70 144.40" fill="none" stroke="#fff" stroke-width="1.05" stroke-linecap="round" stroke-linejoin="round"/>
<path d="M 609.35 132.20 C 606.60 132.20 605.40 133.95 605.40 136.88 L 605.40 139.22 C 605.40 142.14 606.60 143.90 609.35 143.90 C 612.10 143.90 613.30 142.14 613.30 139.22 L 613.30 136.88 C 613.30 133.95 612.10 132.20 609.35 132.20 Z" fill="none" stroke="#fff" stroke-width="1.05" stroke-linecap="round" stroke-linejoin="round"/>
<path d="M 617.40 132.20 L 617.40 140.39 C 617.40 142.73 618.58 143.90 621.05 143.90 C 623.52 143.90 624.70 142.73 624.70 140.39 L 624.70 132.20" fill="none" stroke="#fff" stroke-width="1.05" stroke-linecap="round" stroke-linejoin="round"/>
<path d="M 628.55 132.20 L 634.95 132.20 M 631.75 132.20 L 631.75 143.90" fill="none" stroke="#fff" stroke-width="1.05" stroke-linecap="round" stroke-linejoin="round"/>
<path d="M 732.55 114.40 C 729.80 114.40 728.60 116.16 728.60 119.08 L 728.60 121.42 C 728.60 124.34 729.80 126.10 732.55 126.10 C 735.30 126.10 736.50 124.34 736.50 121.42 L 736.50 119.08 C 736.50 116.16 735.30 114.40 732.55 114.40 Z" fill="none" stroke="#fff" stroke-width="1.05" stroke-linecap="round" stroke-linejoin="round"/>
<path d="M 740.60 114.40 L 740.60 122.59 C 740.60 124.93 741.78 126.10 744.25 126.10 C 746.72 126.10 747.90 124.93 747.90 122.59 L 747.90 114.40" fill="none" stroke="#fff" stroke-width="1.05" stroke-linecap="round" stroke-linejoin="round"/>
<path d="M 751.75 114.40 L 758.15 114.40 M 754.95 114.40 L 754.95 126.10" fill="none" stroke="#fff" stroke-width="1.05" stroke-linecap="round" stroke-linejoin="round"/>
<path d="M 695.40 147.70 C 695.90 146.77 696.90 146.30 698.50 146.30 C 700.60 146.30 701.60 147.47 701.60 149.23 C 701.60 150.40 701.10 151.56 700.10 152.74 L 695.40 158.00 L 701.60 158.00" fill="none" stroke="#fff" stroke-width="1.05" stroke-linecap="round" stroke-linejoin="round"/>
<path d="M 741.10 146.30 L 748.50 146.30 L 744.44 150.98 L 745.52 150.98 C 747.55 150.98 748.50 152.38 748.50 154.26 C 748.50 156.60 747.07 158.00 744.80 158.00 C 743.01 158.00 741.70 157.42 741.10 156.60" fill="none" stroke="#fff" stroke-width="1.05" stroke-linecap="round" stroke-linejoin="round"/>
<path d="M 405.40 265.50 L 405.40 277.20" fill="none" stroke="#fff" stroke-width="1.05" stroke-linecap="round" stroke-linejoin="round"/>
<path d="M 411.30 277.20 L 411.30 265.50 L 417.50 277.20 L 417.50 265.50" fill="none" stroke="#fff" stroke-width="1.05" stroke-linecap="round" stroke-linejoin="round"/>
<path d="M 366.00 299.50 L 373.00 299.50 L 369.16 304.18 L 370.18 304.18 C 372.10 304.18 373.00 305.58 373.00 307.46 C 373.00 309.80 371.65 311.20 369.50 311.20 C 367.81 311.20 366.56 310.62 366.00 309.80" fill="none" stroke="#fff" stroke-width="1.05" stroke-linecap="round" stroke-linejoin="round"/>
<path d="M 377.90 310.38 L 377.90 311.20" fill="none" stroke="#fff" stroke-width="1.05" stroke-linecap="round" stroke-linejoin="round"/>
<path d="M 382.70 299.50 L 389.70 299.50 L 385.86 304.18 L 386.88 304.18 C 388.80 304.18 389.70 305.58 389.70 307.46 C 389.70 309.80 388.35 311.20 386.20 311.20 C 384.51 311.20 383.26 310.62 382.70 309.80" fill="none" stroke="#fff" stroke-width="1.05" stroke-linecap="round" stroke-linejoin="round"/>
<path d="M 392.60 299.50 L 396.25 311.20 L 399.90 299.50" fill="none" stroke="#fff" stroke-width="1.05" stroke-linecap="round" stroke-linejoin="round"/>
<path d="M 691.40 279.30 L 691.40 291.00" fill="none" stroke="#fff" stroke-width="1.05" stroke-linecap="round" stroke-linejoin="round"/>
<path d="M 697.30 291.00 L 697.30 279.30 L 704.10 291.00 L 704.10 279.30" fill="none" stroke="#fff" stroke-width="1.05" stroke-linecap="round" stroke-linejoin="round"/>
<path d="M 764.50 299.30 L 764.50 311.00" fill="none" stroke="#fff" stroke-width="1.05" stroke-linecap="round" stroke-linejoin="round"/>
<path d="M 770.40 311.00 L 770.40 299.30 L 776.90 311.00 L 776.90 299.30" fill="none" stroke="#fff" stroke-width="1.05" stroke-linecap="round" stroke-linejoin="round"/>
</g>
<!--/PCB-->
<g stroke="#bababa" stroke-width="1" stroke-dasharray="1 1.75" fill="none">
<path d="M357.7 23.5V402M428.1 23.5V402M498.4 23.5V402M568.8 23.5V402M639.2 23.5V402M709.5 23.5V402M779.9 23.5V402"/>
<path d="M343.5 38.9H820M343.5 109.3H820M343.5 179.7H820M343.5 250.1H820M343.5 320.5H820M343.5 390.9H820"/>
</g>
<path d="M357.7 23.5v4M357.7 401.5v-4M428.1 23.5v4M428.1 401.5v-4M498.4 23.5v4M498.4 401.5v-4M568.8 23.5v4M568.8 401.5v-4M639.2 23.5v4M639.2 401.5v-4M709.5 23.5v4M709.5 401.5v-4M779.9 23.5v4M779.9 401.5v-4M343.5 38.9h4M819.5 38.9h-4M343.5 109.3h4M819.5 109.3h-4M343.5 179.7h4M819.5 179.7h-4M343.5 250.1h4M819.5 250.1h-4M343.5 320.5h4M819.5 320.5h-4M343.5 390.9h4M819.5 390.9h-4" stroke="#777" stroke-width="0.6" fill="none"/>
<rect x="343.5" y="23.5" width="476" height="378" fill="none" stroke="#222" stroke-width="1"/>
</svg>

<div class="tk tky" style="top:33.87px;">2.0</div>
<div class="tk tky" style="top:104.27px;">1.5</div>
<div class="tk tky" style="top:174.67px;">1.0</div>
<div class="tk tky" style="top:245.07px;">0.5</div>
<div class="tk tky" style="top:315.47px;">0.0</div>
<div class="tk tky" style="top:385.87px;">−0.5</div>
<div class="tk tkx" style="left:338.00px;">0.0</div>
<div class="tk tkx" style="left:408.40px;">0.5</div>
<div class="tk tkx" style="left:478.70px;">1.0</div>
<div class="tk tkx" style="left:549.10px;">1.5</div>
<div class="tk tkx" style="left:619.50px;">2.0</div>
<div class="tk tkx" style="left:689.80px;">2.5</div>
<div class="tk tkx" style="left:760.20px;">3.0</div>
</body>
</html>
